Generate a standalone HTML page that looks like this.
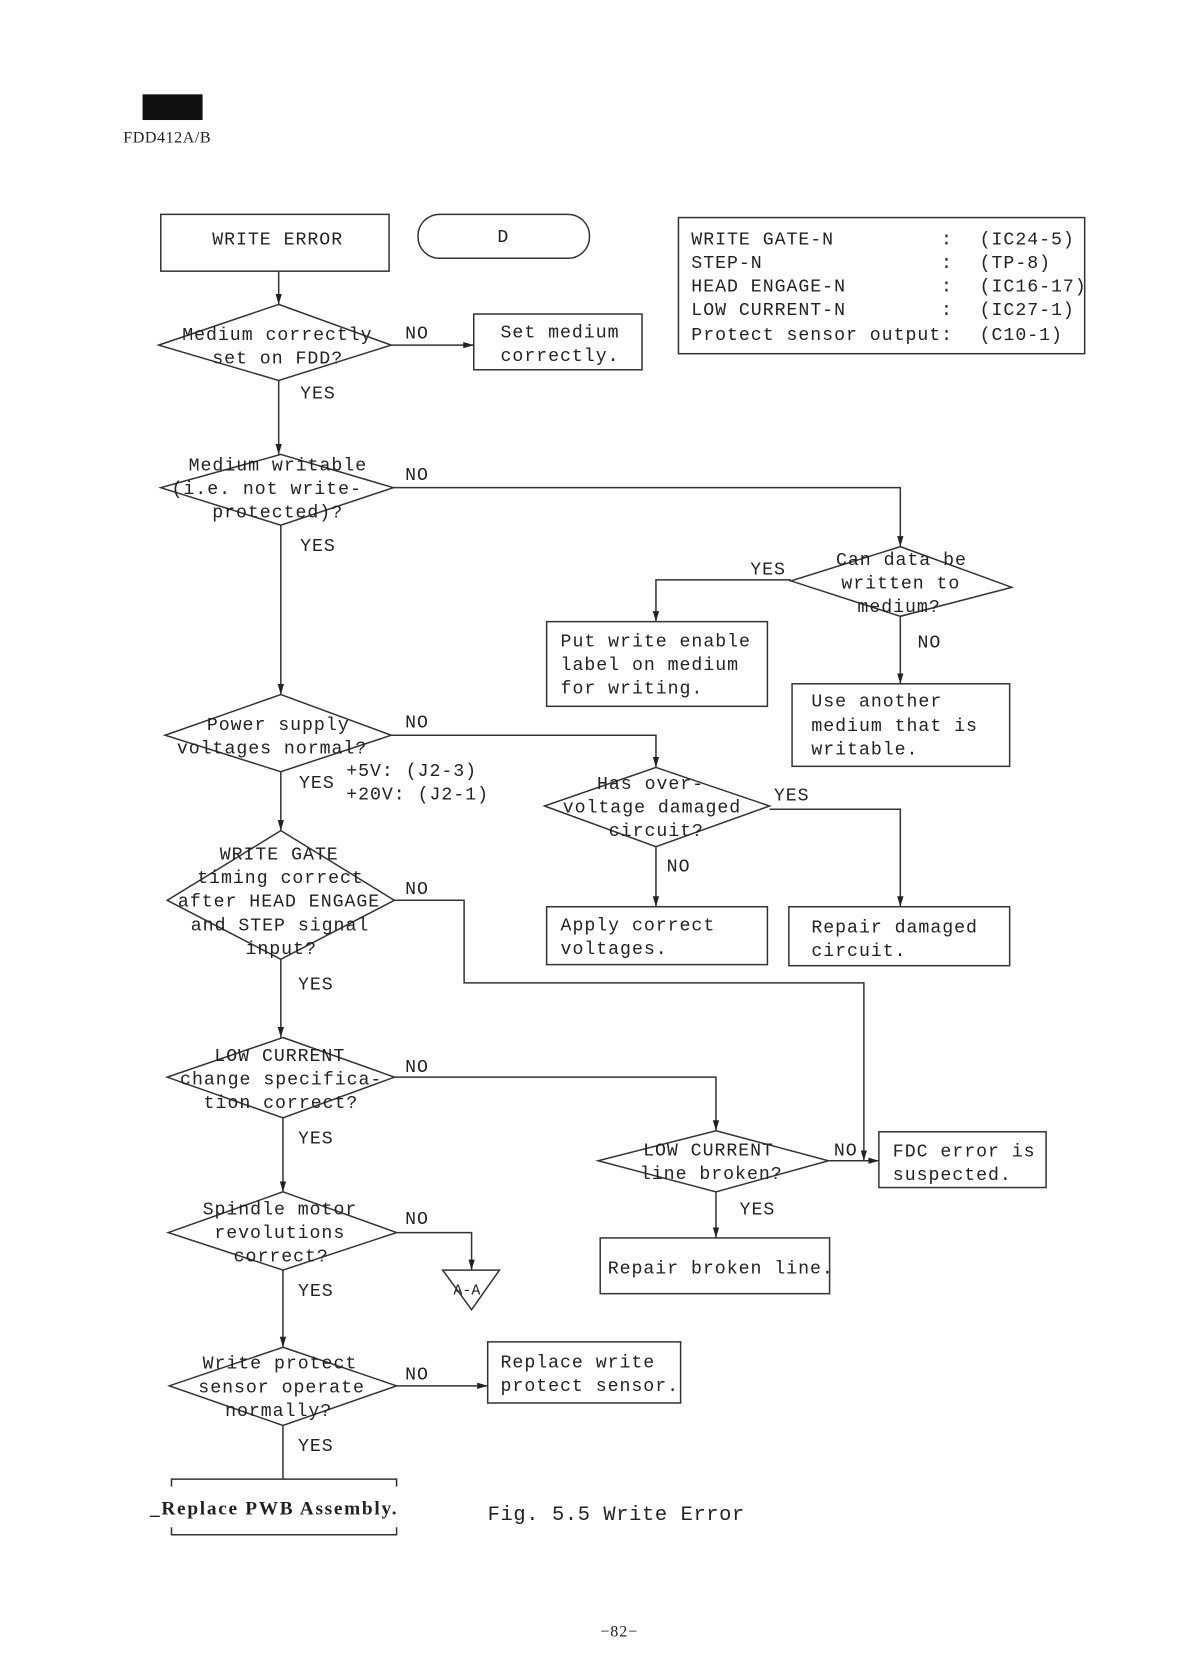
<!DOCTYPE html>
<html><head><meta charset="utf-8"><style>
html,body{margin:0;padding:0;background:#fff;}
svg{display:block;}
text{font-family:"Liberation Mono",monospace;font-size:17px;fill:#222;letter-spacing:0.9px;}
.s{font-family:"Liberation Serif",serif;}
</style></head><body>
<svg width="1179" height="1672" viewBox="0 0 1100 1560" xmlns="http://www.w3.org/2000/svg">
<defs><marker id="a" viewBox="0 0 10 10" refX="10" refY="5" markerWidth="7" markerHeight="7" orient="auto"><path d="M0,2 L10,5 L0,8 z" fill="#222"/></marker></defs>
<g fill="none" stroke="#333" stroke-width="1.4">
<rect x="133" y="88" width="56" height="24" fill="#111" stroke="none"/>
<rect x="150" y="200" width="213" height="53"/>
<rect x="390" y="200" width="160" height="41" rx="20"/>
<rect x="633" y="203" width="379" height="127"/>
<polygon points="260,284 365,322 260,355 148,322"/>
<polygon points="262,424 367,455 262,490 150,455"/>
<polygon points="840,510 944,548 840,575 738,542"/>
<polygon points="262,648 365,686 262,720 154,686"/>
<polygon points="612,716 718,752 612,790 508,752"/>
<polygon points="262,775 368,840 262,895 156,840"/>
<polygon points="264,968 368,1005 264,1043 156,1005"/>
<polygon points="668,1055 773,1083 668,1112 558,1083"/>
<polygon points="264,1112 370,1150 264,1185 157,1150"/>
<polygon points="264,1257 370,1293 264,1330 158,1293"/>
<rect x="442" y="293" width="157" height="52"/>
<rect x="510" y="580" width="206" height="79"/>
<rect x="739" y="638" width="203" height="77"/>
<rect x="510" y="846" width="206" height="54"/>
<rect x="736" y="846" width="206" height="55"/>
<rect x="820" y="1056" width="156" height="52"/>
<rect x="560" y="1155" width="214" height="52"/>
<rect x="455" y="1252" width="180" height="57"/>
<polygon points="413,1185 466,1185 440,1222"/>
<path d="M160,1387 V1380 H370 V1387 M160,1425 V1432 H370 V1425"/>
<path d="M260,253 V284" marker-end="url(#a)"/>
<path d="M365,322 H442" marker-end="url(#a)"/>
<path d="M260,355 V424" marker-end="url(#a)"/>
<path d="M367,455 H840 V510" marker-end="url(#a)"/>
<path d="M262,490 V648" marker-end="url(#a)"/>
<path d="M738,541 H612 V580" marker-end="url(#a)"/>
<path d="M840,575 V638" marker-end="url(#a)"/>
<path d="M365,686 H612 V716" marker-end="url(#a)"/>
<path d="M262,720 V775" marker-end="url(#a)"/>
<path d="M718,755 H840 V846" marker-end="url(#a)"/>
<path d="M612,790 V846" marker-end="url(#a)"/>
<path d="M368,840 H433 V917 H806 V1083" marker-end="url(#a)"/>
<path d="M773,1083 H820" marker-end="url(#a)"/>
<path d="M262,895 V968" marker-end="url(#a)"/>
<path d="M368,1005 H668 V1055" marker-end="url(#a)"/>
<path d="M668,1112 V1155" marker-end="url(#a)"/>
<path d="M264,1043 V1112" marker-end="url(#a)"/>
<path d="M370,1150 H440 V1185" marker-end="url(#a)"/>
<path d="M264,1185 V1257" marker-end="url(#a)"/>
<path d="M370,1293 H455" marker-end="url(#a)"/>
<path d="M264,1330 V1380"/>
</g>
<text class="s" x="115" y="133" style="font-size:15px;letter-spacing:0.5px">FDD412A/B</text>
<text x="198" y="228">WRITE ERROR</text>
<text x="464" y="226">D</text>
<text x="645" y="228">WRITE GATE-N</text><text x="878" y="228">:</text><text x="914" y="228">(IC24-5)</text>
<text x="645" y="250">STEP-N</text><text x="878" y="250">:</text><text x="914" y="250">(TP-8)</text>
<text x="645" y="272">HEAD ENGAGE-N</text><text x="878" y="272">:</text><text x="914" y="272">(IC16-17)</text>
<text x="645" y="294">LOW CURRENT-N</text><text x="878" y="294">:</text><text x="914" y="294">(IC27-1)</text>
<text x="645" y="317">Protect sensor output:</text><text x="914" y="317">(C10-1)</text>
<text x="170" y="317">Medium correctly</text>
<text x="198" y="339">set on FDD?</text>
<text x="378" y="316">NO</text><text x="280" y="372">YES</text>
<text x="467" y="315">Set medium</text><text x="467" y="337">correctly.</text>
<text x="176" y="439">Medium writable</text>
<text x="160" y="461">(i.e. not write-</text>
<text x="198" y="483">protected)?</text>
<text x="378" y="448">NO</text><text x="280" y="514">YES</text>
<text x="780" y="527">Can data be</text>
<text x="785" y="549">written to</text>
<text x="800" y="571">medium?</text>
<text x="700" y="536">YES</text><text x="856" y="604">NO</text>
<text x="523" y="603">Put write enable</text><text x="523" y="625">label on medium</text><text x="523" y="647">for writing.</text>
<text x="757" y="659">Use another</text><text x="757" y="682">medium that is</text><text x="757" y="704">writable.</text>
<text x="193" y="681">Power supply</text>
<text x="165" y="703">voltages normal?</text>
<text x="378" y="679">NO</text><text x="279" y="735">YES</text>
<text x="323" y="724">+5V: (J2-3)</text><text x="323" y="746">+20V: (J2-1)</text>
<text x="557" y="736">Has over-</text><text x="525" y="758">voltage damaged</text><text x="568" y="780">circuit?</text>
<text x="722" y="747">YES</text><text x="622" y="813">NO</text>
<text x="523" y="868">Apply correct</text><text x="523" y="890">voltages.</text>
<text x="757" y="870">Repair damaged</text><text x="757" y="892">circuit.</text>
<text x="205" y="802">WRITE GATE</text>
<text x="184" y="824">timing correct</text>
<text x="166" y="846">after HEAD ENGAGE</text>
<text x="178" y="868">and STEP signal</text>
<text x="229" y="890">input?</text>
<text x="378" y="834">NO</text><text x="278" y="923">YES</text>
<text x="200" y="990">LOW CURRENT</text>
<text x="168" y="1012">change specifica-</text>
<text x="190" y="1034">tion correct?</text>
<text x="378" y="1000">NO</text><text x="278" y="1067">YES</text>
<text x="600" y="1078">LOW CURRENT</text><text x="597" y="1100">line broken?</text>
<text x="778" y="1078">NO</text><text x="690" y="1133">YES</text>
<text x="833" y="1079">FDC error is</text><text x="833" y="1101">suspected.</text>
<text x="567" y="1188">Repair broken line.</text>
<text x="189" y="1133">Spindle motor</text><text x="200" y="1155">revolutions</text><text x="218" y="1177">correct?</text>
<text x="378" y="1142">NO</text><text x="278" y="1209">YES</text>
<text x="423" y="1208" style="font-size:14px;letter-spacing:0">A-A</text>
<text x="189" y="1277">Write protect</text><text x="185" y="1299">sensor operate</text><text x="210" y="1321">normally?</text>
<text x="378" y="1287">NO</text><text x="278" y="1354">YES</text>
<text x="467" y="1276">Replace write</text><text x="467" y="1298">protect sensor.</text>
<text class="s" x="140" y="1413" style="font-weight:bold;font-size:18px;letter-spacing:1.6px">_Replace PWB Assembly.</text>
<text x="455" y="1418" style="font-size:19px;letter-spacing:0.6px">Fig. 5.5  Write Error</text>
<text class="s" x="560" y="1527" style="font-size:15px">−82−</text>
</svg>
</body></html>
